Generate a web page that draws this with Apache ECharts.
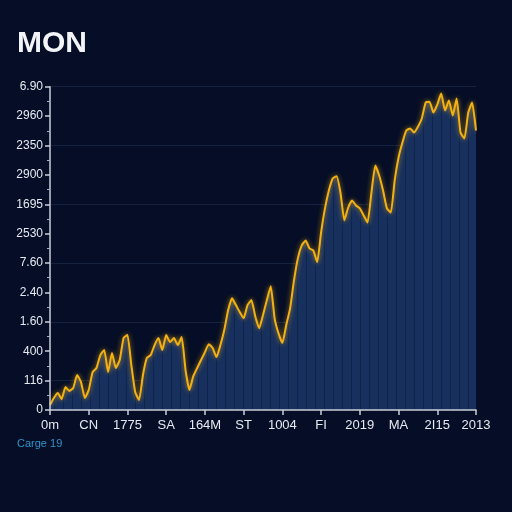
<!DOCTYPE html>
<html>
<head>
<meta charset="utf-8">
<script src="https://cdn.jsdelivr.net/npm/echarts@6/dist/echarts.min.js"></script>
<style>
html,body{margin:0;padding:0;background:#050e26;}
#c{width:512px;height:512px;}
</style>
</head>
<body>
<div id="c"></div>
<script>
// Tick labels
var xTickLabels = ['0m','CN','1775','SA','164M','ST','1004','FI','2019','MA','2I15','2013'];
var yTickLabels = ['0','116','400','1.60','2.40','7.60','2530','1695','2900','2350','2960','6.90'];
var pointsPerTick = 10;
// Series values (in axis units; 100 = one labelled tick)
var values = [
  17,41,58,37,78,65,75,119,95,41,
  68,129,143,187,204,129,194,143,170,245,
  255,153,61,34,119,177,187,221,245,204,
  255,231,245,221,248,136,68,115,143,170,
  197,224,211,180,221,272,340,380,357,333,
  312,357,374,319,278,323,374,421,312,261,
  228,289,346,441,516,560,577,550,543,503,
  604,686,747,788,795,740,645,689,713,696,
  686,662,638,740,832,798,747,686,672,781,
  859,910,951,958,944,964,992,1046,1049,1012,
  1039,1077,1019,1053,1002,1060,944,924,1012,1046,
  951
];
var gridValues = [100,300,500,700,900,1100];

var categories = values.map(function(v,i){
  return (i % pointsPerTick === 0) ? xTickLabels[i / pointsPerTick] : '';
});

// stripe pattern for the area fill
var pc = document.createElement('canvas');
pc.width = 9; pc.height = 4;
var pctx = pc.getContext('2d');
pctx.fillStyle = '#17305d';
pctx.fillRect(0,0,9,4);
pctx.fillStyle = '#10244a';
pctx.fillRect(0,0,1,4);

var chart = echarts.init(document.getElementById('c'), null, {renderer:'canvas'});
chart.setOption({
  backgroundColor: '#050e26',
  animation: false,
  graphic: [
    {type:'text', left: 17, top: 29, style:{text:'MON', fill:'#f2f4f8', font:'bold 30px "Liberation Sans", Arial, sans-serif'}},
    {type:'text', left: 17, top: 438, style:{text:'Carge 19', fill:'#2f93c9', font:'11px "Liberation Sans", Arial, sans-serif'}}
  ],
  grid: {left: 50, right: 36, top: 86.7, bottom: 102, containLabel: false},
  xAxis: {
    type: 'category',
    data: categories,
    boundaryGap: false,
    z: 20,
    axisLine: {lineStyle: {color: '#c9ced8', width: 1.5}},
    axisTick: {show: true, interval: pointsPerTick - 1, length: 5, lineStyle:{color:'#c9ced8', width:1.5}},
    axisLabel: {interval: pointsPerTick - 1, color: '#e6e9f0', fontSize: 13, margin: 9, fontFamily: '"Liberation Sans", Arial, sans-serif'},
    splitLine: {show: false}
  },
  yAxis: {
    type: 'value',
    min: 0, max: 1100, interval: 100,
    z: 20,
    axisLine: {show: true, lineStyle: {color: '#c9ced8', width: 1.5}},
    axisTick: {show: true, length: 5, lineStyle:{color:'#c9ced8', width:1.5}},
    minorTick: {show: true, splitNumber: 2, length: 3, lineStyle:{color:'#aab0bd'}},
    axisLabel: {
      color: '#e6e9f0', fontSize: 12, margin: 7, fontFamily: '"Liberation Sans", Arial, sans-serif',
      formatter: function(v){ return yTickLabels[Math.round(v/100)]; }
    },
    splitLine: {show: false}
  },
  series: [
    {
      type: 'line', z: 1, data: [], silent: true,
      markLine: {
        z: 1,
        silent: true, symbol: 'none', label:{show:false},
        lineStyle: {color: '#15223f', width: 1, type: 'solid'},
        data: gridValues.map(function(v){ return {yAxis: v}; })
      }
    },
    {
      type: 'line', z: 10,
      data: values,
      symbol: 'none',
      smooth: 0.15,
      lineStyle: {color: '#f2b212', width: 2, shadowBlur: 5, shadowColor: 'rgba(255,180,20,0.7)'},
      areaStyle: {color: {image: pc, repeat: 'repeat'}, opacity: 1}
    }
  ]
});
</script>
</body>
</html>
